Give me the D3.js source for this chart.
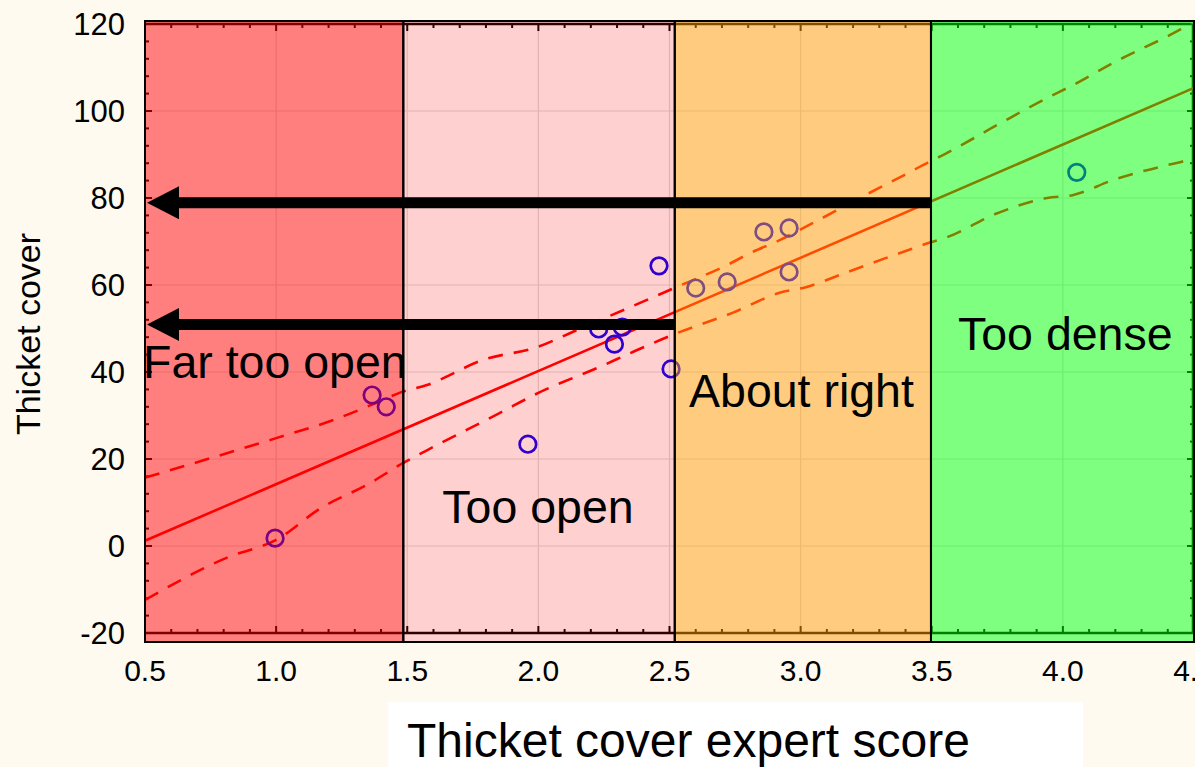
<!DOCTYPE html>
<html>
<head>
<meta charset="utf-8">
<script src="https://cdn.jsdelivr.net/npm/d3@7/dist/d3.min.js"></script>
<style>
  html, body { margin: 0; padding: 0; background: #fefaf0; }
  svg { display: block; }
  text { font-family: "Liberation Sans", Arial, Helvetica, sans-serif; }
</style>
</head>
<body>
<svg id="chart" width="1195" height="767"></svg>
<script>
// Observed plots: expert score vs measured thicket cover
const scoreX = [0.996, 1.366, 1.42, 1.96, 2.23, 2.29, 2.32, 2.46, 2.506, 2.60, 2.72, 2.86, 2.956, 2.956, 4.053];
const coverY = [1.8, 34.7, 32.0, 23.4, 49.9, 46.4, 50.3, 64.4, 40.7, 59.3, 60.7, 72.2, 73.1, 63.0, 85.9];

// Fitted regression line (end points)
const fitX = [0.5, 4.5];
const fitY = [1.2, 105.3];

// 95% confidence band, upper and lower curves
const upperX = [0.5, 1.0, 1.22, 1.385, 1.47, 1.575, 1.79, 2.0, 2.13, 2.43, 2.51, 2.72, 2.81, 2.92, 3.02, 3.26, 3.38, 3.49, 3.55, 3.75, 3.94, 4.04, 4.19, 4.45, 4.5];
const upperY = [15.7, 24.8, 29.0, 33.0, 35.2, 37.0, 42.8, 45.8, 49.2, 57.0, 59.1, 64.6, 67.4, 70.3, 73.4, 81.1, 84.8, 88.3, 90.1, 96.8, 103.0, 106.0, 111.0, 118.8, 120.5];
const lowerX = [0.5, 0.82, 1.0, 1.17, 1.36, 1.47, 1.575, 1.85, 2.0, 2.235, 2.36, 2.51, 2.74, 2.92, 3.02, 3.18, 3.39, 3.49, 3.55, 3.75, 3.94, 4.04, 4.19, 4.45, 4.5];
const lowerY = [-12.4, -2.5, 1.4, 8.7, 14.5, 18.6, 22.0, 30.5, 35.2, 41.2, 44.6, 48.5, 53.6, 58.2, 59.5, 63.0, 67.6, 69.7, 70.8, 76.5, 80.0, 80.7, 84.1, 88.3, 89.0];

// Score classes shaded across the plot
const zoneEdges = [0.5, 1.485, 2.52, 3.497, 4.5];
const zoneNames = ["Far too open", "Too open", "About right", "Too dense"];

// Read-across arrows: start score and cover level
const arrowFrom = [3.497, 2.52];
const arrowLevel = [78.9, 50.9];

// Axis ticks
const xTicks = [0.5, 1.0, 1.5, 2.0, 2.5, 3.0, 3.5, 4.0, 4.5];
const yTicks = [-20, 0, 20, 40, 60, 80, 100, 120];

const xLabel = "Thicket cover expert score";
const yLabel = "Thicket cover";

(function draw() {
  const svg = d3.select("#chart");
  const W = 1195, H = 767;
  const pl = 145, pr = 1194, pt = 24, pb = 633;
  const frameTop = 21, frameBottom = 642;

  const x = d3.scaleLinear().domain([0.5, 4.5]).range([pl, pr]);
  const y = d3.scaleLinear().domain([-20, 120]).range([pb, pt]);

  svg.append("rect").attr("width", W).attr("height", H).attr("fill", "#fefaf0");

  svg.append("defs").append("clipPath").attr("id", "plotClip")
    .append("rect").attr("x", pl).attr("y", pt - 1).attr("width", pr - pl).attr("height", pb - pt + 1);

  // Plot background
  svg.append("rect").attr("x", pl).attr("y", frameTop)
    .attr("width", pr - pl).attr("height", frameBottom - frameTop).attr("fill", "#ffffff");

  // Grid
  const grid = svg.append("g").attr("stroke", "#dcdcdc").attr("stroke-width", 1.2);
  grid.selectAll("line.gx").data(xTicks.slice(1, -1)).join("line")
    .attr("x1", d => x(d)).attr("x2", d => x(d)).attr("y1", pt).attr("y2", pb);
  grid.selectAll("line.gy").data(yTicks.slice(1, -1)).join("line")
    .attr("x1", pl).attr("x2", pr).attr("y1", d => y(d)).attr("y2", d => y(d));

  // Axis ticks on all four sides, pointing inwards
  const isMajorX = d => Math.abs(d * 2 - Math.round(d * 2)) < 1e-6;
  const minorX = d3.range(5, 46).map(v => v / 10);
  const minorY = d3.range(-20, 121, 4);
  const ticks = svg.append("g").attr("stroke", "#000").attr("stroke-width", 2);
  ticks.selectAll("line.tt").data(minorX).join("line")
    .attr("x1", d => x(d)).attr("x2", d => x(d))
    .attr("y1", pt).attr("y2", d => pt + (isMajorX(d) ? 7 : 4));
  ticks.selectAll("line.tb").data(minorX).join("line")
    .attr("x1", d => x(d)).attr("x2", d => x(d))
    .attr("y1", pb).attr("y2", d => pb - (isMajorX(d) ? 7 : 4));
  ticks.selectAll("line.tl").data(minorY).join("line")
    .attr("x1", pl).attr("x2", d => pl + (d % 20 === 0 ? 7 : 4))
    .attr("y1", d => y(d)).attr("y2", d => y(d));
  ticks.selectAll("line.tr").data(minorY).join("line")
    .attr("x1", pr).attr("x2", d => pr - (d % 20 === 0 ? 7 : 4))
    .attr("y1", d => y(d)).attr("y2", d => y(d));
  svg.append("line").attr("x1", pl).attr("x2", pr).attr("y1", pt).attr("y2", pt)
    .attr("stroke", "#000").attr("stroke-width", 2.6);
  svg.append("line").attr("x1", pl).attr("x2", pr).attr("y1", pb).attr("y2", pb)
    .attr("stroke", "#000").attr("stroke-width", 2.6);
  svg.append("line").attr("x1", pr - 1).attr("x2", pr - 1).attr("y1", pt).attr("y2", pb)
    .attr("stroke", "#000").attr("stroke-width", 2.6);

  // Regression line and confidence band
  const plot = svg.append("g").attr("clip-path", "url(#plotClip)");
  const line = d3.line().x(d => x(d[0])).y(d => y(d[1])).curve(d3.curveMonotoneX);
  plot.append("path").datum(d3.zip(fitX, fitY)).attr("d", line)
    .attr("fill", "none").attr("stroke", "#ff0000").attr("stroke-width", 2.6);
  [[upperX, upperY], [lowerX, lowerY]].forEach(([xs, ys]) => {
    plot.append("path").datum(d3.zip(xs, ys)).attr("d", line)
      .attr("fill", "none").attr("stroke", "#ff0000").attr("stroke-width", 2.6)
      .attr("stroke-dasharray", "15,11");
  });

  // Observations
  plot.selectAll("circle.pt").data(d3.zip(scoreX, coverY)).join("circle")
    .attr("cx", d => x(d[0])).attr("cy", d => y(d[1])).attr("r", 8.3)
    .attr("fill", "none").attr("stroke", "#0000ff").attr("stroke-width", 2.7);

  // Translucent class shading
  const zoneFill = ["#ff0000", "#ff0000", "#ff9900", "#00ff00"];
  const zoneOpacity = [0.5, 0.185, 0.5, 0.5];
  svg.selectAll("rect.zone").data(zoneNames).join("rect")
    .attr("x", (d, i) => x(zoneEdges[i])).attr("y", frameTop)
    .attr("width", (d, i) => x(zoneEdges[i + 1]) - x(zoneEdges[i]))
    .attr("height", frameBottom - frameTop)
    .attr("fill", (d, i) => zoneFill[i]).attr("fill-opacity", (d, i) => zoneOpacity[i]);
  svg.selectAll("rect.zoneEdge").data(zoneNames).join("rect")
    .attr("x", (d, i) => x(zoneEdges[i])).attr("y", frameTop)
    .attr("width", (d, i) => x(zoneEdges[i + 1]) - x(zoneEdges[i]))
    .attr("height", frameBottom - frameTop)
    .attr("fill", "none").attr("stroke", "#000").attr("stroke-width", 2);

  // Arrows reading cover off the fitted line
  arrowFrom.forEach((s, i) => {
    const yy = y(arrowLevel[i]);
    const tip = x(0.5) + 2, headLen = 32, headHalf = 16.5, shaft = 5.5;
    svg.append("path")
      .attr("d", `M${x(s)},${yy - shaft}L${tip + headLen},${yy - shaft}L${tip + headLen},${yy - headHalf}` +
        `L${tip},${yy}L${tip + headLen},${yy + headHalf}L${tip + headLen},${yy + shaft}L${x(s)},${yy + shaft}Z`)
      .attr("fill", "#000");
  });

  // Class names
  const zoneLabelPos = [[143, 378, "start"], [538, 523, "middle"], [689, 407, "start"], [958, 350, "start"]];
  svg.selectAll("text.zl").data(zoneNames).join("text")
    .attr("x", (d, i) => zoneLabelPos[i][0]).attr("y", (d, i) => zoneLabelPos[i][1])
    .attr("text-anchor", (d, i) => zoneLabelPos[i][2])
    .attr("font-size", 46.5).attr("fill", "#000").text(d => d);

  // Tick labels
  svg.selectAll("text.xt").data(xTicks).join("text")
    .attr("x", d => x(d)).attr("y", 681).attr("text-anchor", "middle")
    .attr("font-size", 30).attr("fill", "#000").text(d3.format(".1f"));
  svg.selectAll("text.yt").data(yTicks).join("text")
    .attr("x", 125).attr("y", d => y(d) + 11).attr("text-anchor", "end")
    .attr("font-size", 31).attr("fill", "#000").text(d => d);

  // Axis titles
  svg.append("text").attr("transform", "translate(40,334) rotate(-90)")
    .attr("text-anchor", "middle").attr("font-size", 34).attr("fill", "#000").text(yLabel);
  svg.append("rect").attr("x", 388).attr("y", 702).attr("width", 695).attr("height", 70).attr("fill", "#ffffff");
  svg.append("text").attr("x", 407).attr("y", 757).attr("font-size", 48).attr("fill", "#000").text(xLabel);
})();
</script>
</body>
</html>
